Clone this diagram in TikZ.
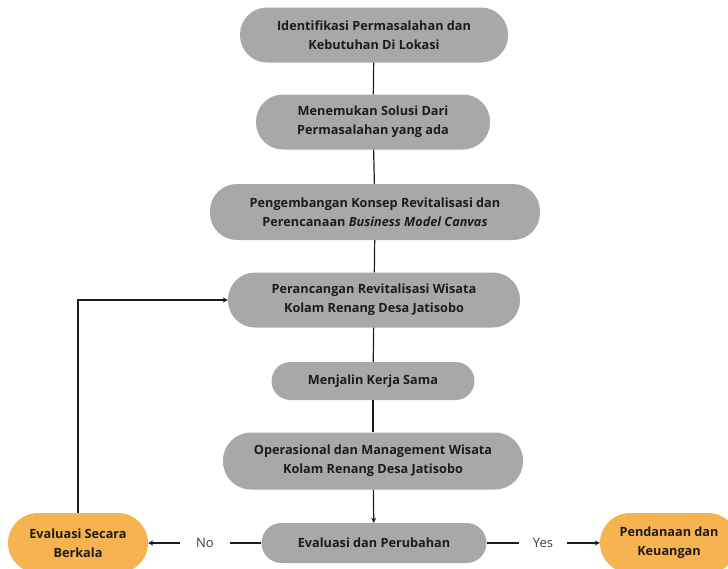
\documentclass[tikz,border=0pt]{standalone}
\usepackage{fontspec}
\setmainfont{Open Sans}
\usetikzlibrary{arrows.meta}
\definecolor{boxgray}{HTML}{A8A8A8}
\definecolor{boxorange}{HTML}{F7B34F}
\definecolor{txt}{HTML}{1C1C1C}
\tikzset{
  gbox/.style={draw=none, fill=boxgray, text=txt, font=\fontsize{12.7}{19}\selectfont\bfseries, align=center, inner sep=0pt},
  obox/.style={draw=none, fill=boxorange, text=txt, font=\fontsize{12.7}{19}\selectfont\bfseries, align=center, inner sep=0pt},
  link/.style={draw=txt, line width=1.2pt},
  arr/.style={link, -{Stealth[length=5pt,width=5pt]}},
  lbl/.style={text=txt!85, font=\fontsize{13}{15}\selectfont, inner sep=0pt}
}
\begin{document}
\begin{tikzpicture}[x=1pt,y=-1pt]
\clip (0,0) rectangle (728,568);
\fill[white] (0,0) rectangle (728,568);
\node[gbox, minimum width=268pt, minimum height=55pt, rounded corners=27pt] (b1) at (374,35) {Identifikasi Permasalahan dan\\Kebutuhan Di Lokasi};
\node[gbox, minimum width=234pt, minimum height=55pt, rounded corners=27pt] (b2) at (373,122) {Menemukan Solusi Dari\\Permasalahan yang ada};
\node[gbox, minimum width=330pt, minimum height=56pt, rounded corners=27pt] (b3) at (375,212) {Pengembangan Konsep Revitalisasi dan\\Perencanaan \textit{Business Model Canvas}};
\node[gbox, minimum width=292pt, minimum height=55pt, rounded corners=27pt] (b4) at (374,300) {Perancangan Revitalisasi Wisata\\Kolam Renang Desa Jatisobo};
\node[gbox, minimum width=203pt, minimum height=38pt, rounded corners=19pt] (b5) at (373,381) {Menjalin Kerja Sama};
\node[gbox, minimum width=300pt, minimum height=57pt, rounded corners=28pt] (b6) at (373,461) {Operasional dan Management Wisata\\Kolam Renang Desa Jatisobo};
\node[gbox, minimum width=225pt, minimum height=40pt, rounded corners=20pt] (b7) at (374,543) {Evaluasi dan Perubahan};
\node[obox, minimum width=140pt, minimum height=60pt, rounded corners=30pt] (o1) at (78,543) {Evaluasi Secara\\Berkala};
\node[obox, minimum width=138pt, minimum height=60pt, rounded corners=30pt] (o2) at (669,543) {Pendanaan dan\\Keuangan};
\node[lbl] (no) at (205,543) {No};
\node[lbl] (yes) at (543,543) {Yes};
\draw[link] (b1) -- (b2);
\draw[link] (b2) -- (b3);
\draw[link] (b3) -- (b4);
\draw[link] (b4) -- (b5);
\draw[link] (b5) -- (b6);
\draw[arr] (b6) -- (b7);
\draw[link] (b7.west) -- ([xshift=16pt]no.east);
\draw[arr] ([xshift=-16pt]no.west) -- (o1.east);
\draw[link] (b7.east) -- ([xshift=-14pt]yes.west);
\draw[arr] ([xshift=14pt]yes.east) -- (o2.west);
\draw[arr] (o1.north) |- (b4.west);
\end{tikzpicture}
\end{document}
